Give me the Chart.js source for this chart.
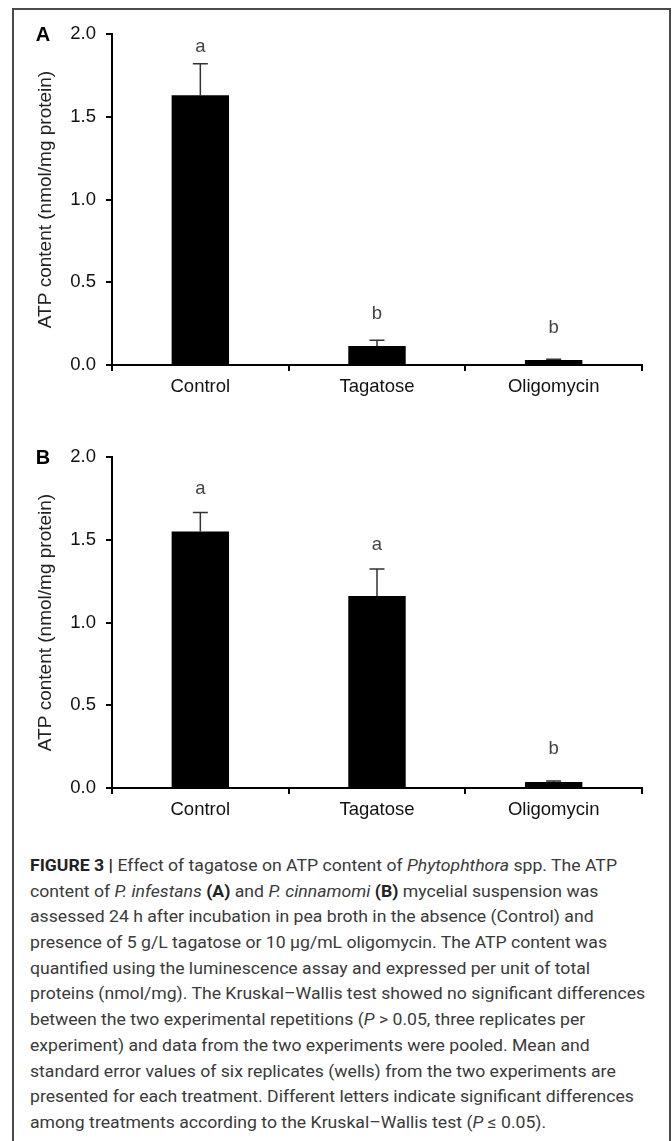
<!DOCTYPE html>
<html>
<head>
<meta charset="utf-8">
<script src="https://cdn.jsdelivr.net/npm/chart.js@4.4.1/dist/chart.umd.min.js"></script>
<style>
  html, body { margin: 0; padding: 0; background: #fff; overflow: hidden; }
  #page { position: relative; width: 672px; height: 1141px; overflow: hidden; }
  #frame { position: absolute; left: 12px; top: 8px; width: 655px; height: 1200px; border: 2px solid #4a4a4a; }
  canvas { position: absolute; left: 0; }
  #chartA { top: 0; }
  #chartB { top: 423px; }
  #caption { position: absolute; left: 30px; top: 853px; font-family: Roboto, "Liberation Sans", sans-serif;
             font-size: 17px; color: #3a3a3a; transform-origin: 0 0; }
  #caption div { height: 25.7px; line-height: 25.7px; white-space: nowrap; }
  #caption span { display: inline-block; }
  #caption b { color: #222; }
</style>
</head>
<body>
<div id="page">
  <div id="frame"></div>
  <canvas id="chartA" width="672" height="420"></canvas>
  <canvas id="chartB" width="672" height="420"></canvas>
  <div id="caption">
    <div><span><b>FIGURE 3 |</b> Effect of tagatose on ATP content of <i>Phytophthora</i> spp. The ATP</span></div>
    <div><span>content of <i>P. infestans</i> <b>(A)</b> and <i>P. cinnamomi</i> <b>(B)</b> mycelial suspension was</span></div>
    <div><span>assessed 24 h after incubation in pea broth in the absence (Control) and</span></div>
    <div><span>presence of 5 g/L tagatose or 10 μg/mL oligomycin. The ATP content was</span></div>
    <div><span>quantified using the luminescence assay and expressed per unit of total</span></div>
    <div><span>proteins (nmol/mg). The Kruskal–Wallis test showed no significant differences</span></div>
    <div><span>between the two experimental repetitions (<i>P</i> &gt; 0.05, three replicates per</span></div>
    <div><span>experiment) and data from the two experiments were pooled. Mean and</span></div>
    <div><span>standard error values of six replicates (wells) from the two experiments are</span></div>
    <div><span>presented for each treatment. Different letters indicate significant differences</span></div>
    <div><span>among treatments according to the Kruskal–Wallis test (<i>P</i> ≤ 0.05).</span></div>
  </div>
</div>
<script>
// data
const categories = ['Control', 'Tagatose', 'Oligomycin'];
const yTicks = [0, 0.5, 1.0, 1.5, 2.0];

// panel A - P. infestans
const meanA = [1.63, 0.115, 0.03];
const errA = [0.19, 0.034, 0.005];
const lettersA = ['a', 'b', 'b'];
const letterYA = [1.92, 0.31, 0.225];

// panel B - P. cinnamomi
const meanB = [1.55, 1.16, 0.036];
const errB = [0.114, 0.163, 0.006];
const lettersB = ['a', 'a', 'b'];
const letterYB = [1.807, 1.47, 0.238];

const FONT = '"Liberation Sans", Arial, sans-serif';

// error bars, significance letters and panel letter
const errorBarPlugin = {
  id: 'errbars',
  afterDatasetsDraw(chart, args, opts) {
    const ctx = chart.ctx;
    const y = chart.scales.y;
    const meta = chart.getDatasetMeta(0);
    ctx.save();
    meta.data.forEach((bar, i) => {
      const mean = chart.data.datasets[0].data[i];
      const top = y.getPixelForValue(mean + opts.errs[i]);
      ctx.strokeStyle = '#333';
      ctx.lineWidth = 1.5;
      ctx.beginPath();
      ctx.moveTo(bar.x, y.getPixelForValue(mean));
      ctx.lineTo(bar.x, top);
      ctx.moveTo(bar.x - 7.5, top);
      ctx.lineTo(bar.x + 7.5, top);
      ctx.stroke();

      ctx.fillStyle = '#444';
      ctx.font = '18.5px ' + FONT;
      ctx.textAlign = 'center';
      ctx.textBaseline = 'middle';
      ctx.fillText(opts.letters[i], bar.x, y.getPixelForValue(opts.letterY[i]));
    });
    ctx.fillStyle = '#000';
    ctx.font = 'bold 20px ' + FONT;
    ctx.textAlign = 'center';
    ctx.textBaseline = 'middle';
    ctx.fillText(opts.panel, 43, y.getPixelForValue(yTicks[yTicks.length - 1]) + 1);
    ctx.restore();
  }
};

function makeChart(id, panel, means, errs, letters, letterY) {
  const ctx = document.getElementById(id).getContext('2d');
  return new Chart(ctx, {
    type: 'bar',
    data: {
      labels: categories,
      datasets: [{
        data: means,
        backgroundColor: '#000',
        borderWidth: 0,
        barPercentage: 0.325,
        categoryPercentage: 1
      }]
    },
    options: {
      responsive: false,
      animation: false,
      layout: { padding: { top: 34, right: 30, bottom: 0, left: 0 } },
      plugins: {
        legend: { display: false },
        tooltip: { enabled: false },
        errbars: { panel, errs, letters, letterY }
      },
      scales: {
        x: {
          offset: true,
          grid: { offset: true, drawOnChartArea: false, tickLength: 6, lineWidth: 2, color: '#000' },
          border: { color: '#000', width: 2 },
          ticks: { color: '#111', font: { family: FONT, size: 18.5 }, padding: 5 },
          afterFit: s => { s.height = 55; }
        },
        y: {
          min: 0,
          max: 2,
          afterBuildTicks: s => { s.ticks = yTicks.map(v => ({ value: v })); },
          grid: { drawOnChartArea: false, tickLength: 6, lineWidth: 2, color: '#000' },
          border: { color: '#000', width: 2 },
          ticks: { color: '#111', font: { family: FONT, size: 18.5 }, padding: 10, callback: v => v.toFixed(1) },
          title: {
            display: true,
            text: 'ATP content (nmol/mg protein)',
            color: '#222',
            font: { family: FONT, size: 19 },
            padding: { top: 34, bottom: 0 }
          },
          afterFit: s => { s.width = 112; }
        }
      }
    },
    plugins: [errorBarPlugin]
  });
}

makeChart('chartA', 'A', meanA, errA, lettersA, letterYA);
makeChart('chartB', 'B', meanB, errB, lettersB, letterYB);

// squeeze caption so the longest line spans the same width as in the figure
const caption = document.getElementById('caption');
let widest = 0;
caption.querySelectorAll('span').forEach(s => { widest = Math.max(widest, s.offsetWidth); });
if (widest > 0) caption.style.transform = 'scaleX(' + (615 / widest) + ')';
</script>
</body>
</html>
